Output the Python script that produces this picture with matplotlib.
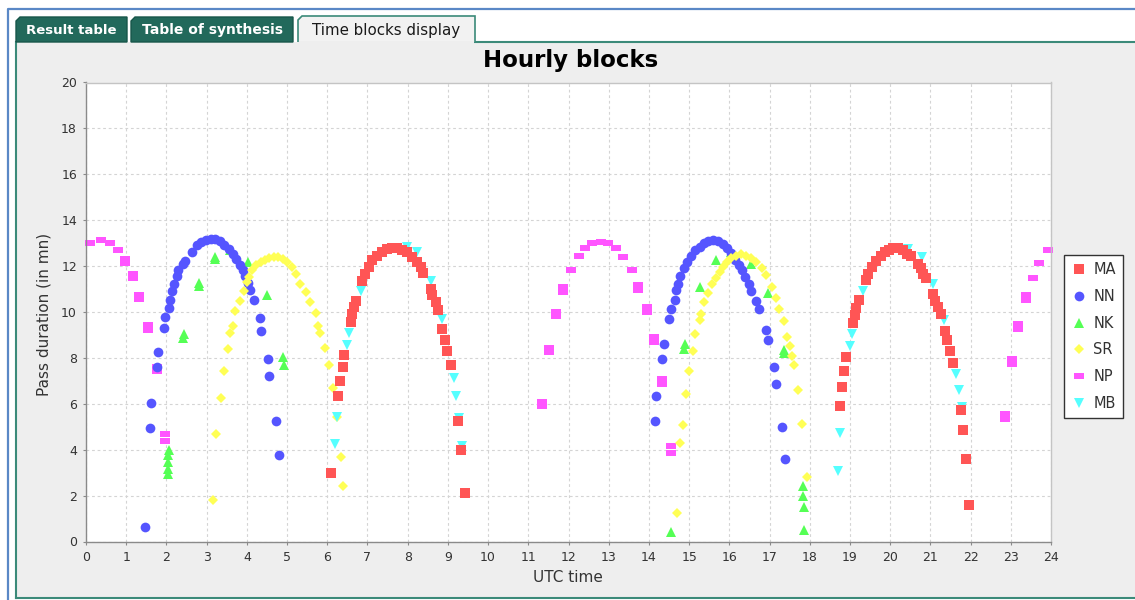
import matplotlib
matplotlib.use("Agg")
import matplotlib.pyplot as plt
from matplotlib.patches import Rectangle, Polygon
from matplotlib.lines import Line2D

# ---------------- data ----------------
series_names = ["MA", "NN", "NK", "SR", "NP", "MB"]

ma_x = [6.10, 6.27, 6.31, 6.38, 6.41, 6.58, 6.62, 6.66, 6.72, 6.87, 6.95, 7.03, 7.12, 7.24, 7.37,
        7.49, 7.62, 7.74, 7.87, 7.99, 8.12, 8.22, 8.32, 8.39, 8.57, 8.61, 8.70, 8.75, 8.86, 8.92,
        8.99, 9.07, 9.24, 9.32, 9.42,
        18.75, 18.81, 18.85, 18.91, 19.08, 19.12, 19.16, 19.22, 19.39, 19.45, 19.55, 19.66, 19.76,
        19.87, 19.97, 20.08, 20.20, 20.33, 20.43, 20.53, 20.68, 20.77, 20.82, 20.88, 21.07, 21.11,
        21.20, 21.26, 21.36, 21.42, 21.50, 21.57, 21.75, 21.82, 21.89, 21.96]
ma_y = [2.99, 6.33, 6.99, 7.60, 8.13, 9.56, 9.92, 10.21, 10.50, 11.37, 11.66, 11.95, 12.27, 12.46, 12.61,
        12.75, 12.80, 12.78, 12.71, 12.61, 12.39, 12.17, 11.95, 11.69, 11.01, 10.72, 10.43, 10.10, 9.24, 8.80,
        8.28, 7.67, 5.24, 4.00, 2.10,
        5.90, 6.75, 7.41, 8.03, 9.53, 9.88, 10.18, 10.54, 11.40, 11.66, 11.95, 12.24, 12.46,
        12.61, 12.71, 12.77, 12.77, 12.68, 12.54, 12.42, 12.10, 11.91, 11.66, 11.49, 10.79, 10.50,
        10.21, 9.92, 9.19, 8.76, 8.28, 7.77, 5.74, 4.84, 3.60, 1.57]

nn_x = [1.47, 1.58, 1.61, 1.76, 1.79, 1.93, 1.97, 2.07, 2.09, 2.13, 2.20, 2.26, 2.30, 2.42, 2.47,
        2.63, 2.76, 2.86, 2.99, 3.11, 3.21, 3.34, 3.44, 3.55, 3.66, 3.74, 3.82, 3.90, 3.96, 4.02,
        4.09, 4.17, 4.32, 4.35, 4.53, 4.56, 4.73, 4.79,
        14.15, 14.18, 14.33, 14.37, 14.50, 14.54, 14.64, 14.68, 14.72, 14.78, 14.87, 14.95, 15.05,
        15.15, 15.26, 15.37, 15.47, 15.59, 15.72, 15.84, 15.95, 16.05, 16.15, 16.23, 16.31, 16.40,
        16.49, 16.55, 16.67, 16.74, 16.90, 16.95, 17.10, 17.15, 17.31, 17.38]
nn_y = [0.65, 4.94, 6.03, 7.60, 8.25, 9.30, 9.77, 10.18, 10.54, 10.91, 11.23, 11.56, 11.81, 12.10, 12.24,
        12.61, 12.90, 13.04, 13.15, 13.19, 13.16, 13.09, 12.94, 12.75, 12.54, 12.32, 12.05, 11.81, 11.55, 11.26,
        10.94, 10.54, 9.73, 9.16, 7.96, 7.23, 5.24, 3.78,
        5.24, 6.32, 7.96, 8.61, 9.70, 10.14, 10.54, 10.94, 11.23, 11.59, 11.91, 12.17, 12.42,
        12.68, 12.85, 13.00, 13.09, 13.15, 13.09, 12.97, 12.80, 12.56, 12.27, 12.06, 11.81, 11.52,
        11.23, 10.91, 10.50, 10.11, 9.22, 8.76, 7.60, 6.87, 4.98, 3.60]

nk_x = [2.03, 2.03, 2.04, 2.05, 2.07, 2.41, 2.44, 2.80, 2.82, 3.20, 3.22, 3.57, 4.04, 4.49, 4.90, 4.92,
        14.54, 14.88, 14.89, 15.28, 15.67, 16.05, 16.55, 16.95, 17.35, 17.37, 17.83, 17.83, 17.86, 17.86]
nk_y = [2.95, 3.17, 3.46, 3.75, 4.00, 8.85, 9.05, 11.15, 11.25, 12.33, 12.40, 12.68, 12.17, 10.76, 8.03, 7.67,
        0.41, 8.40, 8.61, 11.08, 12.27, 12.61, 12.10, 10.82, 8.35, 8.20, 2.44, 2.00, 1.49, 0.51]

sr_x = [3.17, 3.24, 3.36, 3.42, 3.52, 3.59, 3.66, 3.71, 3.82, 3.92, 4.00, 4.05, 4.13, 4.23, 4.34,
        4.44, 4.56, 4.67, 4.78, 4.89, 5.00, 5.13, 5.23, 5.33, 5.48, 5.58, 5.71, 5.76, 5.83, 5.94,
        6.04, 6.14, 6.25, 6.35, 6.40,
        14.70, 14.78, 14.84, 14.91, 14.99, 15.09, 15.15, 15.26, 15.30, 15.38, 15.48, 15.57, 15.67,
        15.76, 15.84, 15.94, 16.05, 16.17, 16.30, 16.42, 16.55, 16.67, 16.80, 16.92, 17.06, 17.17,
        17.23, 17.35, 17.44, 17.50, 17.56, 17.61, 17.71, 17.81, 17.92]
sr_y = [1.79, 4.69, 6.26, 7.42, 8.39, 9.08, 9.41, 10.03, 10.50, 10.91, 11.30, 11.52, 11.81, 12.03, 12.17,
        12.27, 12.36, 12.39, 12.39, 12.32, 12.17, 11.95, 11.66, 11.23, 10.86, 10.43, 9.95, 9.41, 9.08, 8.44,
        7.67, 6.68, 5.42, 3.67, 2.40,
        1.24, 4.28, 5.08, 6.43, 7.45, 8.32, 9.05, 9.63, 9.92, 10.43, 10.82, 11.20, 11.49,
        11.73, 11.95, 12.17, 12.36, 12.46, 12.51, 12.46, 12.36, 12.17, 11.91, 11.63, 11.08, 10.62,
        10.14, 9.60, 8.93, 8.54, 8.07, 7.71, 6.58, 5.13, 2.83]

np_x = [0.10, 0.38, 0.60, 0.80, 0.97, 0.97, 1.17, 1.17, 1.32, 1.32, 1.55, 1.55, 1.77, 1.77, 1.97, 1.97,
        11.35, 11.35, 11.52, 11.52, 11.70, 11.70, 11.87, 11.87, 12.06, 12.25, 12.42, 12.58, 12.81, 12.99,
        13.18, 13.36, 13.57, 13.74, 13.74, 13.95, 13.95, 14.12, 14.12, 14.33, 14.33, 14.54, 14.54,
        22.86, 22.86, 23.03, 23.03, 23.19, 23.19, 23.37, 23.37, 23.55, 23.71, 23.92]
np_y = [13.00, 13.12, 13.00, 12.72, 12.12, 12.30, 11.46, 11.64, 10.56, 10.74, 9.20, 9.42, 7.45, 7.60, 4.70, 4.40,
        5.90, 6.10, 8.25, 8.45, 9.82, 10.02, 10.87, 11.07, 11.84, 12.42, 12.80, 13.00, 13.06, 13.00,
        12.78, 12.39, 11.84, 10.98, 11.18, 10.01, 10.21, 8.70, 8.90, 6.88, 7.08, 4.15, 3.86,
        5.35, 5.55, 7.74, 7.94, 9.27, 9.47, 10.52, 10.72, 11.48, 12.14, 12.68]

mb_x = [6.20, 6.25, 6.48, 6.55, 6.83, 7.99, 8.24, 8.57, 8.86, 9.15, 9.21, 9.28, 9.34,
        18.71, 18.75, 19.00, 19.05, 19.33, 20.45, 20.78, 21.07, 21.35, 21.63, 21.71, 21.78]
mb_y = [4.23, 5.42, 8.58, 9.09, 10.91, 12.82, 12.61, 11.34, 9.70, 7.13, 6.33, 5.39, 4.14,
        3.09, 4.72, 8.50, 9.05, 10.91, 12.75, 12.39, 11.20, 9.66, 7.31, 6.62, 5.88]

x_ticks = list(range(0, 25))
y_ticks = list(range(0, 21, 2))
tab_labels = ["Result table", "Table of synthesis", "Time blocks display"]
title = "Hourly blocks"
x_label = "UTC time"
y_label = "Pass duration (in mn)"

# ---------------- figure ----------------
W, H = 1135, 600
fig = plt.figure(figsize=(W / 100, H / 100), dpi=100)
fig.patch.set_facecolor("white")


def fx(x):
    return x / W


def fy(y):
    return 1 - y / H


teal = "#22695b"
tealline = "#3b8a79"

# panel background
fig.add_artist(Rectangle((fx(16), fy(598)), fx(1135 - 16), (598 - 42) / H, transform=fig.transFigure,
                         facecolor="#eeeeee", edgecolor="none", zorder=-10))
fig.add_artist(Line2D([fx(16), fx(16)], [fy(42), fy(598)], transform=fig.transFigure, color=tealline, lw=1.5, zorder=-9))
fig.add_artist(Line2D([fx(16), fx(1135)], [fy(598), fy(598)], transform=fig.transFigure, color=tealline, lw=1.5, zorder=-9))
fig.add_artist(Line2D([fx(475), fx(1135)], [fy(42), fy(42)], transform=fig.transFigure, color=tealline, lw=1.5, zorder=-9))
# outer blue frame
fig.add_artist(Line2D([fx(8), fx(8), fx(1135)], [fy(600), fy(9), fy(9)], transform=fig.transFigure,
                      color="#5a88c6", lw=1.6, zorder=-9))

# tabs
tabs = [(16, 127, 17, True, 9.5), (131, 293, 17, True, 10), (298, 475, 16, False, 10.8)]
for (x0, x1, y0, inactive, fs), lab in zip(tabs, tab_labels):
    pts = [(fx(x0), fy(42)), (fx(x0), fy(y0 + 4)), (fx(x0 + 4), fy(y0)), (fx(x1), fy(y0)), (fx(x1), fy(42))]
    if inactive:
        fig.add_artist(Polygon(pts, closed=True, transform=fig.transFigure, facecolor=teal,
                               edgecolor="#17564a", lw=1, zorder=-8))
        fig.text(fx((x0 + x1) / 2), fy(30), lab, ha="center", va="center", color="white",
                 fontsize=fs, fontweight="bold", family="DejaVu Sans")
    else:
        fig.add_artist(Polygon(pts + [(fx(x0), fy(42))], closed=False, transform=fig.transFigure,
                               facecolor="#f2f2f2", edgecolor=tealline, lw=1.2, zorder=-8))
        fig.add_artist(Rectangle((fx(x0 + 1), fy(44)), fx(x1 - x0 - 2), 3 / H, transform=fig.transFigure,
                                 facecolor="#eeeeee", edgecolor="none", zorder=-7))
        fig.text(fx((x0 + x1) / 2), fy(30), lab, ha="center", va="center", color="#1a1a1a",
                 fontsize=fs, family="DejaVu Sans")

# axes
ax = fig.add_axes([fx(86), fy(541.5), fx(1051 - 86), (541.5 - 82.5) / H])
ax.set_facecolor("white")
ax.set_xlim(0, 24)
ax.set_ylim(0, 20)
ax.set_xticks(x_ticks)
ax.set_yticks(y_ticks)
ax.grid(True, color="#d4d4d4", linestyle=(0, (2.5, 2.5)), linewidth=0.8)
ax.set_axisbelow(True)
for s in ["left", "bottom"]:
    ax.spines[s].set_color("#8a8a8a")
    ax.spines[s].set_linewidth(1.0)
for s in ["top", "right"]:
    ax.spines[s].set_color("#c4c4c4")
    ax.spines[s].set_linewidth(1.0)
ax.tick_params(direction="out", length=2.5, width=0.8, color="#8a8a8a", labelsize=9,
               labelcolor="#333333", pad=4)

rect_marker = [(-1, -0.5), (1, -0.5), (1, 0.5), (-1, 0.5), (-1, -0.5)]
styles = {
    "MA": dict(marker="s", ms=6.6, color="#ff5555"),
    "NN": dict(marker="o", ms=7.0, color="#5555ff"),
    "NK": dict(marker="^", ms=7.6, color="#55ff55"),
    "SR": dict(marker="D", ms=4.9, color="#ffff55"),
    "NP": dict(marker=rect_marker, ms=7.4, color="#ff55ff"),
    "MB": dict(marker="v", ms=7.4, color="#55ffff"),
}
data = {"MA": (ma_x, ma_y), "NN": (nn_x, nn_y), "NK": (nk_x, nk_y),
        "SR": (sr_x, sr_y), "NP": (np_x, np_y), "MB": (mb_x, mb_y)}
handles = []
for name in series_names:
    st = styles[name]
    xs, ys = data[name]
    h, = ax.plot(xs, ys, linestyle="none", marker=st["marker"], ms=st["ms"], color=st["color"],
                 markeredgewidth=0, label=name, clip_on=False)
    handles.append(h)
for z, h in zip([6, 3, 2, 4, 2, 5], handles):
    h.set_zorder(z)

leg = fig.legend(handles=handles, labels=series_names, loc="upper left",
                 bbox_to_anchor=(fx(1064), fy(255)), bbox_transform=fig.transFigure,
                 borderaxespad=0, frameon=True, fancybox=False, framealpha=1, fontsize=10.5,
                 numpoints=1, handlelength=1.0, handletextpad=0.5, borderpad=0.5, labelspacing=0.8)
leg.get_frame().set_edgecolor("#333333")
leg.get_frame().set_linewidth(1.0)
for t in leg.get_texts():
    t.set_color("#333333")

fig.text(fx(571), fy(60), title, ha="center", va="center", fontsize=16.5, fontweight="bold", color="black")
fig.text(fx(568), fy(578), x_label, ha="center", va="center", fontsize=11, color="#333333")
fig.text(fx(44), fy(314), y_label, ha="center", va="center", rotation=90, fontsize=11, color="#333333")

fig.savefig("out.png", dpi=100)
